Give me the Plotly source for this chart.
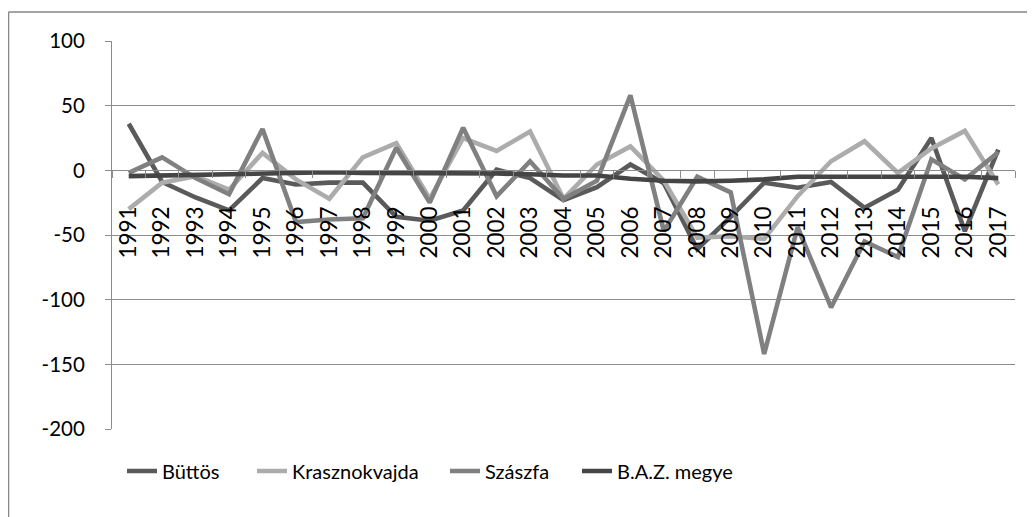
import plotly.graph_objects as go

years = list(range(1991, 2018))

buttos = [36, -9, -21, -31, -6, -11, -9.5, -9.5, -36, -39, -31, 0.5, -6, -23, -13, 4.5,
          -10, -61, -36, -9.5, -13.5, -9, -29, -15, 25, -47, 16]
krasznokvajda = [-30, -9.5, -4.5, -15, 13.5, -7, -22, 10, 21, -22, 25, 15, 30, -22, 4.5, 18.5,
                 -8, -52, -51, -53, -20, 7, 22.5, -2, 17, 30.5, -11]
szaszfa = [-2, 10, -6, -18.5, 32, -40, -38, -37, 17.5, -25, 33, -20, 7, -22, -8, 58,
           -47, -5, -17, -142, -44, -106, -55, -67, 8.5, -7, 14]
baz = [-4.5, -4, -3.5, -3, -2.5, -2, -1.5, -2, -2, -2, -2.5, -2.5, -3, -4, -4, -6.5,
       -8, -8.5, -8, -7, -5, -5, -5, -5.5, -5, -5, -6]

y_ticks = [-200, -150, -100, -50, 0, 50, 100]
y_tick_labels = ["-200", "-150", "-100", "-50", "0", "50", "100"]

series = [
    ("Büttös", buttos, "#5a5a5a"),
    ("Krasznokvajda", krasznokvajda, "#acacac"),
    ("Szászfa", szaszfa, "#808080"),
    ("B.A.Z. megye", baz, "#454545"),
]

FONT = "Lato"

# page body adds an 8px offset; size the figure to fit the window exactly
OFF = 8
W, H = 1035 - OFF, 517 - OFF
SL, SR, ST, SB = 112, 1015, 41, 429
L, T = SL - OFF, ST - OFF
R = W - (SR - OFF)
B = H - (SB - OFF)
pw, ph = W - L - R, H - T - B

def px_x(p):
    return (p - OFF - L) / pw

def px_y(p):
    return (H - B - (p - OFF)) / ph

legend_ids = ["legend", "legend2", "legend3", "legend4"]
legend_left = [122, 252, 445, 577]

fig = go.Figure()
for (name, vals, col), lid in zip(series, legend_ids):
    fig.add_trace(go.Scatter(x=years, y=vals, name=name, mode="lines", legend=lid,
                             line=dict(color=col, width=4.6)))

legend_layout = {}
for lid, lx in zip(legend_ids, legend_left):
    legend_layout[lid] = dict(orientation="h", x=px_x(lx), xanchor="left",
                              y=px_y(471), yanchor="middle",
                              font=dict(family=FONT, size=20, color="black"),
                              bgcolor="rgba(0,0,0,0)")

fig.update_layout(
    width=W, height=H,
    margin=dict(l=L, r=R, t=T, b=B),
    paper_bgcolor="white", plot_bgcolor="white",
    font=dict(family=FONT, size=20, color="black"),
    showlegend=True,
    xaxis=dict(range=[years[0] - 0.5, years[-1] + 0.5], anchor="free", position=2/3,
               tickmode="array", tickvals=years, ticktext=[str(y) for y in years],
               showline=True, linecolor="#8c8c8c", linewidth=1,
               ticks="outside", ticklen=26, tickcolor="rgba(0,0,0,0)",
               tickangle=-90, tickfont=dict(family=FONT, size=22.5, color="black"),
               minor=dict(ticks="outside", tick0=years[0] - 0.5, dtick=1, ticklen=7,
                          tickcolor="#8c8c8c", showgrid=False),
               showgrid=False, zeroline=False),
    yaxis=dict(range=[-200, 100], tickmode="array", tickvals=y_ticks, ticktext=y_tick_labels,
               domain=[0, 1],
               showline=True, linecolor="#8c8c8c", linewidth=1,
               ticks="outside", ticklen=6, tickcolor="#8c8c8c",
               showgrid=True, gridcolor="#8c8c8c", gridwidth=1, zeroline=False,
               tickfont=dict(family=FONT, size=20.5, color="black"),
               ticklabelstandoff=16),
    **legend_layout,
)

# outer chart border (left and top)
fig.add_shape(type="line", xref="paper", yref="paper",
              x0=px_x(8.5), x1=px_x(8.5), y0=px_y(12), y1=px_y(530),
              line=dict(color="#868686", width=1.5))
fig.add_shape(type="line", xref="paper", yref="paper",
              x0=px_x(8.5), x1=px_x(1040), y0=px_y(12), y1=px_y(12),
              line=dict(color="#868686", width=1.5))

fig.write_html("out.html")
